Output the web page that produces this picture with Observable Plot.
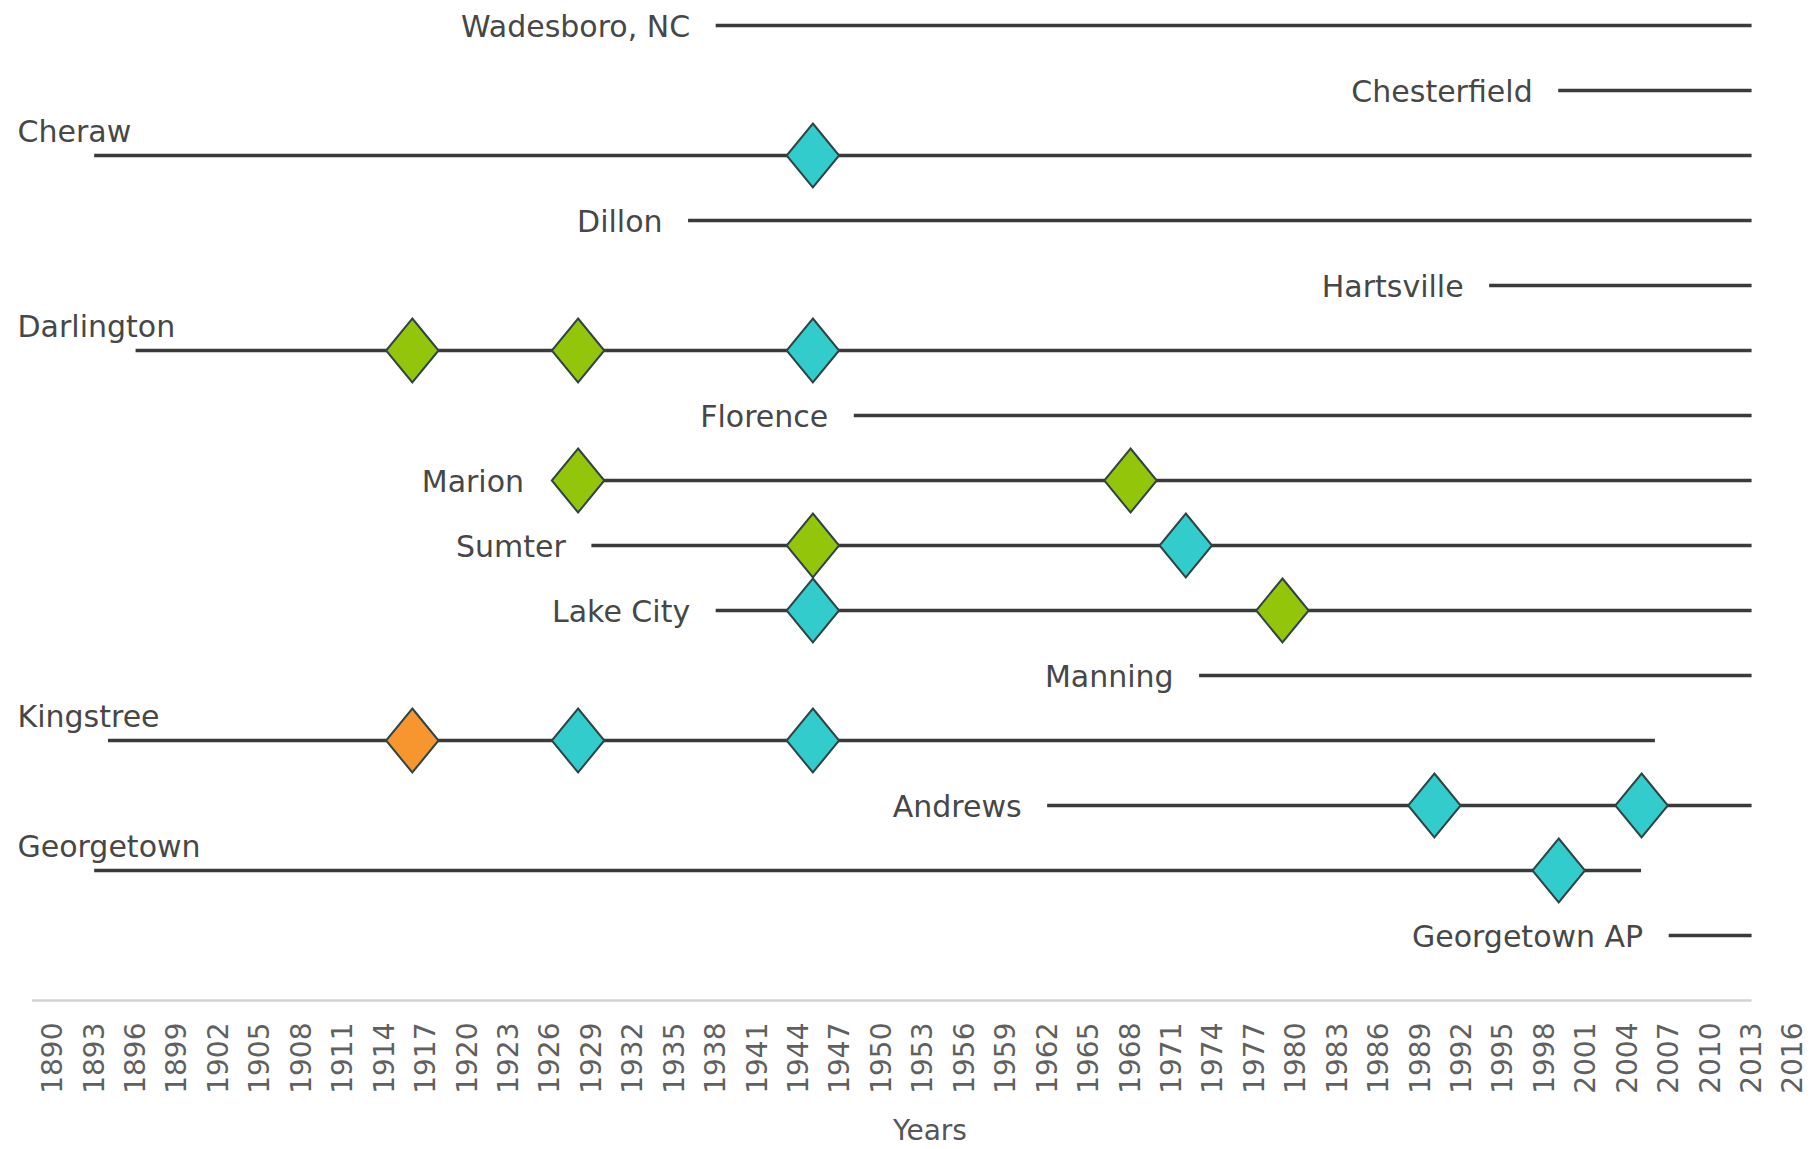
<!DOCTYPE html>
<html>
<head>
<meta charset="utf-8">
<script src="https://cdn.jsdelivr.net/npm/d3@7"></script>
<script src="https://cdn.jsdelivr.net/npm/@observablehq/plot@0.6"></script>
<style>
  html, body { margin: 0; padding: 0; background: #ffffff; }
  #chart svg { display: block; }
</style>
</head>
<body>
<div id="chart"></div>
<script>
// ---- Data ----
const stations   = ["Wadesboro, NC", "Chesterfield", "Cheraw", "Dillon", "Hartsville", "Darlington", "Florence",
                    "Marion", "Sumter", "Lake City", "Manning", "Kingstree", "Andrews", "Georgetown", "Georgetown AP"];
const startYears = [1938, 1999, 1893, 1936, 1994, 1896, 1948, 1928, 1929, 1938, 1973, 1894, 1962, 1893, 2007];
const endYears   = [2013, 2013, 2013, 2013, 2013, 2013, 2013, 2013, 2013, 2013, 2013, 2006, 2013, 2005, 2013];

const eventStations = ["Cheraw", "Darlington", "Darlington", "Darlington", "Marion", "Marion", "Sumter", "Sumter",
                       "Lake City", "Lake City", "Kingstree", "Kingstree", "Kingstree", "Andrews", "Andrews", "Georgetown"];
const eventYears    = [1945, 1916, 1928, 1945, 1928, 1968, 1945, 1972, 1945, 1979, 1916, 1928, 1945, 1990, 2005, 1999];
const eventTypes    = ["B", "A", "A", "B", "A", "A", "A", "B", "B", "A", "C", "B", "B", "B", "B", "B"];

const typeDomain = ["A", "B", "C"];
const typeColors = ["#93c60a", "#33cccc", "#f7962e"];

const tickYears = d3.range(1890, 2017, 3);
const axisStart = 1888.5, axisEnd = 2013;
const xDomain = [1888.5, 2016];

// ---- Tables built from the arrays ----
const rows = stations.map((s, i) => ({station: s, idx: i, start: startYears[i], end: endYears[i]}));
const events = eventStations.map((s, i) => ({station: s, idx: stations.indexOf(s), year: eventYears[i], type: eventTypes[i]}));
const startsWithEvent = d => events.some(e => e.station === d.station && e.year === d.start);
const leftRows = rows.filter(d => d.start < 1900);
const rightRows = rows.filter(d => d.start >= 1900);

// tall diamond symbol
const tallDiamond = {
  draw(context, size) {
    const h = Math.sqrt(size / Math.PI);
    const w = h * 0.82;
    context.moveTo(0, -h);
    context.lineTo(w, 0);
    context.lineTo(0, h);
    context.lineTo(-w, 0);
    context.closePath();
  }
};

const font = "'DejaVu Sans', Verdana, sans-serif";

const chart = Plot.plot({
  width: 1812,
  height: 1149,
  marginLeft: 32,
  marginRight: 19,
  marginTop: 0,
  marginBottom: 149,
  style: {fontFamily: font, background: "#ffffff", color: "#5f5f5f"},
  x: {domain: xDomain},
  y: {domain: [0, stations.length], range: [25, 1000], axis: null},
  color: {domain: typeDomain, range: typeColors},
  marks: [
    // baseline (axis line)
    Plot.ruleY([stations.length], {x1: () => axisStart, x2: () => axisEnd, stroke: "#d2d2d2", strokeWidth: 2.5}),
    Plot.axisX({
      ticks: tickYears,
      tickFormat: d => String(d),
      tickRotate: -90,
      tickSize: 0,
      tickPadding: 22,
      fontSize: 28,
      fill: "#606060",
      label: null
    }),
    Plot.text(["Years"], {frameAnchor: "bottom", text: d => d, dx: 17, dy: 139, fontSize: 28, fill: "#555555", fontFamily: font}),
    // station lines
    Plot.ruleY(rows, {y: "idx", x1: "start", x2: "end", stroke: "#3a3a3a", strokeWidth: 3.5}),
    // station labels (right-aligned before the line; extra room when the line starts with a diamond)
    Plot.text(rightRows.filter(d => !startsWithEvent(d)), {y: "idx", x: "start", text: "station", textAnchor: "end", dx: -26, dy: 2,
      fontSize: 30, fill: "#474747", fontFamily: font}),
    Plot.text(rightRows.filter(startsWithEvent), {y: "idx", x: "start", text: "station", textAnchor: "end", dx: -54, dy: 2,
      fontSize: 30, fill: "#474747", fontFamily: font}),
    // labels above the lines that start at the left edge
    Plot.text(leftRows, {y: "idx", frameAnchor: "left", text: "station", textAnchor: "start", dx: -15, dy: -23,
      fontSize: 30, fill: "#474747", fontFamily: font}),
    // events
    Plot.dot(events, {x: "year", y: "idx", fill: "type", symbol: tallDiamond, r: 32, stroke: "#2f4444", strokeWidth: 2})
  ]
});

document.getElementById("chart").appendChild(chart);
</script>
</body>
</html>
